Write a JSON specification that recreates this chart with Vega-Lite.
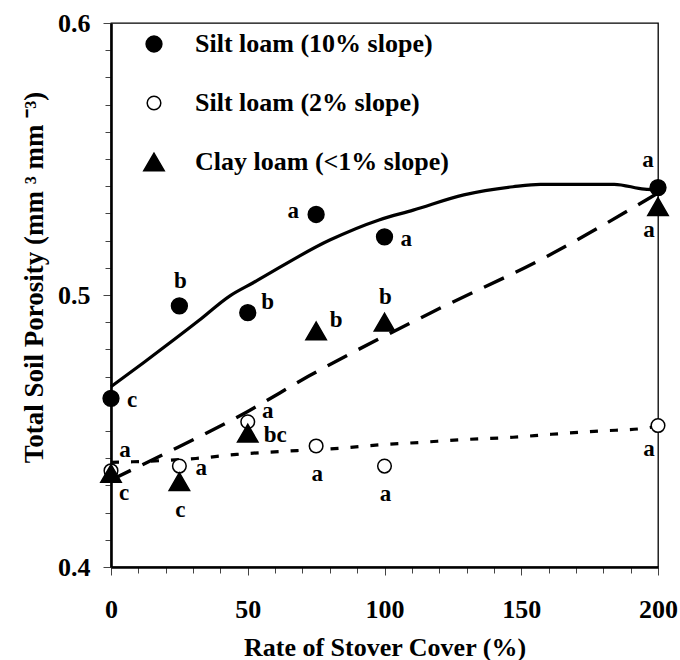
{
  "$schema": "https://vega.github.io/schema/vega-lite/v6.json",
  "width": 547,
  "height": 544,
  "autosize": {"type": "none"},
  "padding": {"left": 111, "top": 23, "right": 22, "bottom": 93},
  "background": "white",
  "config": {
    "view": {"stroke": "black", "strokeWidth": 1.3},
    "font": "Liberation Serif",
    "axis": {
      "grid": false,
      "domainColor": "black",
      "domainWidth": 2.6,
      "tickColor": "#444444",
      "tickWidth": 1,
      "labelFont": "Liberation Serif",
      "labelFontWeight": "bold",
      "labelFontSize": 26,
      "labelColor": "black",
      "labelOverlap": false,
      "labelFlush": false,
      "titleFont": "Liberation Serif",
      "titleFontWeight": "bold",
      "titleFontSize": 26,
      "titleColor": "black"
    }
  },
  "datasets": {
    "points": [
      {"series": "Silt loam (10% slope)", "x": 0, "y": 0.462, "label": "c", "pos": "R"},
      {"series": "Silt loam (10% slope)", "x": 25, "y": 0.496, "label": "b", "pos": "U"},
      {"series": "Silt loam (10% slope)", "x": 50, "y": 0.4935, "label": "b", "pos": "UR"},
      {"series": "Silt loam (10% slope)", "x": 75, "y": 0.5296, "label": "a", "pos": "L"},
      {"series": "Silt loam (10% slope)", "x": 100, "y": 0.5214, "label": "a", "pos": "R"},
      {"series": "Silt loam (10% slope)", "x": 200, "y": 0.5395, "label": "a", "pos": "UL"},
      {"series": "Silt loam (2% slope)", "x": 0, "y": 0.4354, "label": "a", "pos": "UR2"},
      {"series": "Silt loam (2% slope)", "x": 25, "y": 0.4371, "label": "a", "pos": "R"},
      {"series": "Silt loam (2% slope)", "x": 50, "y": 0.4534, "label": "a", "pos": "UR"},
      {"series": "Silt loam (2% slope)", "x": 75, "y": 0.4445, "label": "a", "pos": "D"},
      {"series": "Silt loam (2% slope)", "x": 100, "y": 0.4371, "label": "a", "pos": "D"},
      {"series": "Silt loam (2% slope)", "x": 200, "y": 0.452, "label": "a", "pos": "DL"},
      {"series": "Clay loam (<1% slope)", "x": 0, "y": 0.4344, "label": "c", "pos": "DR"},
      {"series": "Clay loam (<1% slope)", "x": 25, "y": 0.4314, "label": "c", "pos": "D"},
      {"series": "Clay loam (<1% slope)", "x": 50, "y": 0.4492, "label": "bc", "pos": "R"},
      {"series": "Clay loam (<1% slope)", "x": 75, "y": 0.4868, "label": "b", "pos": "UR"},
      {"series": "Clay loam (<1% slope)", "x": 100, "y": 0.49, "label": "b", "pos": "U"},
      {"series": "Clay loam (<1% slope)", "x": 200, "y": 0.5325, "label": "a", "pos": "DL"}
    ],
    "curves": [
      {"series": "Silt loam (10% slope)", "x": 0, "y": 0.4663},
      {"series": "Silt loam (10% slope)", "x": 12, "y": 0.4752},
      {"series": "Silt loam (10% slope)", "x": 32, "y": 0.4905},
      {"series": "Silt loam (10% slope)", "x": 43.5, "y": 0.4997},
      {"series": "Silt loam (10% slope)", "x": 52, "y": 0.5045},
      {"series": "Silt loam (10% slope)", "x": 80, "y": 0.5202},
      {"series": "Silt loam (10% slope)", "x": 98, "y": 0.5276},
      {"series": "Silt loam (10% slope)", "x": 110.5, "y": 0.5312},
      {"series": "Silt loam (10% slope)", "x": 129, "y": 0.5368},
      {"series": "Silt loam (10% slope)", "x": 147, "y": 0.5398},
      {"series": "Silt loam (10% slope)", "x": 157, "y": 0.5407},
      {"series": "Silt loam (10% slope)", "x": 184, "y": 0.5407},
      {"series": "Silt loam (10% slope)", "x": 195, "y": 0.5389},
      {"series": "Silt loam (10% slope)", "x": 200, "y": 0.5387},
      {"series": "Silt loam (2% slope)", "x": 0, "y": 0.4385},
      {"series": "Silt loam (2% slope)", "x": 8, "y": 0.4387},
      {"series": "Silt loam (2% slope)", "x": 31, "y": 0.4399},
      {"series": "Silt loam (2% slope)", "x": 46, "y": 0.4414},
      {"series": "Silt loam (2% slope)", "x": 68, "y": 0.4428},
      {"series": "Silt loam (2% slope)", "x": 84, "y": 0.4437},
      {"series": "Silt loam (2% slope)", "x": 98, "y": 0.4449},
      {"series": "Silt loam (2% slope)", "x": 113, "y": 0.4458},
      {"series": "Silt loam (2% slope)", "x": 128, "y": 0.4468},
      {"series": "Silt loam (2% slope)", "x": 147, "y": 0.4477},
      {"series": "Silt loam (2% slope)", "x": 161, "y": 0.4488},
      {"series": "Silt loam (2% slope)", "x": 179, "y": 0.45},
      {"series": "Silt loam (2% slope)", "x": 195, "y": 0.451},
      {"series": "Silt loam (2% slope)", "x": 200, "y": 0.4518},
      {"series": "Clay loam (<1% slope)", "x": 0, "y": 0.432},
      {"series": "Clay loam (<1% slope)", "x": 20, "y": 0.4418},
      {"series": "Clay loam (<1% slope)", "x": 50, "y": 0.4572},
      {"series": "Clay loam (<1% slope)", "x": 72, "y": 0.47},
      {"series": "Clay loam (<1% slope)", "x": 117, "y": 0.4935},
      {"series": "Clay loam (<1% slope)", "x": 159, "y": 0.514},
      {"series": "Clay loam (<1% slope)", "x": 200, "y": 0.5375}
    ]
  },
  "encoding": {
    "x": {
      "field": "x",
      "type": "quantitative",
      "scale": {"domain": [0, 200], "nice": false, "zero": false},
      "axis": {
        "title": "Rate of Stover Cover (%)",
        "values": [0, 10, 20, 30, 40, 50, 60, 70, 80, 90, 100, 110, 120, 130, 140, 150, 160, 170, 180, 190, 200],
        "labelExpr": "datum.value % 50 === 0 ? datum.label : ''",
        "tickSize": {"condition": {"test": "datum.value % 50 === 0", "value": 8}, "value": 6},
        "labelPadding": 21,
        "titleBaseline": "alphabetic",
        "titleY": 88
      }
    },
    "y": {
      "field": "y",
      "type": "quantitative",
      "scale": {"domain": [0.4, 0.6], "nice": false, "zero": false},
      "axis": {
        "title": "Total Soil Porosity (mm ³ mm ⁻³)",
        "titleFontSize": 27,
        "values": [0.4, 0.41, 0.42, 0.43, 0.44, 0.45, 0.46, 0.47, 0.48, 0.49, 0.5, 0.51, 0.52, 0.53, 0.54, 0.55, 0.56, 0.57, 0.58, 0.59, 0.6],
        "labelExpr": "abs(datum.value * 10 - round(datum.value * 10)) < 0.001 ? format(datum.value, '.1f') : ''",
        "tickSize": {"condition": {"test": "abs(datum.value * 10 - round(datum.value * 10)) < 0.001", "value": 8}, "value": 6},
        "labelPadding": 13,
        "titleAngle": 270,
        "titleBaseline": "middle",
        "titleAlign": "center",
        "titleX": -77,
        "titleY": 254
      }
    }
  },
  "layer": [
    {
      "data": {"name": "curves"},
      "transform": [{"filter": "datum.series === 'Silt loam (10% slope)'"}],
      "mark": {"type": "line", "interpolate": "monotone", "strokeWidth": 3.2, "color": "black"},
      "encoding": {}
    },
    {
      "data": {"name": "curves"},
      "transform": [{"filter": "datum.series === 'Silt loam (2% slope)'"}],
      "mark": {"type": "line", "interpolate": "monotone", "strokeWidth": 3.2, "color": "black", "strokeDash": [8, 12], "strokeCap": "butt"},
      "encoding": {}
    },
    {
      "data": {"name": "curves"},
      "transform": [{"filter": "datum.series === 'Clay loam (<1% slope)'"}],
      "mark": {"type": "line", "interpolate": "monotone", "strokeWidth": 3.4, "color": "black", "strokeDash": [22, 13], "strokeCap": "butt"},
      "encoding": {}
    },
    {
      "data": {"name": "points"},
      "mark": {"type": "point", "filled": true, "stroke": "black", "strokeWidth": 1.5, "opacity": 1},
      "encoding": {
        "shape": {
          "field": "series",
          "type": "nominal",
          "scale": {
            "domain": ["Silt loam (10% slope)", "Silt loam (2% slope)", "Clay loam (<1% slope)"],
            "range": ["circle", "circle", "triangle-up"]
          },
          "legend": {
            "orient": "none",
            "legendX": 30,
            "legendY": 8,
            "title": null,
            "labelFont": "Liberation Serif",
            "labelFontWeight": "bold",
            "labelFontSize": 26,
            "labelColor": "black",
            "rowPadding": 33,
            "labelOffset": 28,
            "symbolStrokeColor": "black",
            "symbolStrokeWidth": 1.5,
            "labelLimit": 500,
            "padding": 0
          }
        },
        "fill": {
          "field": "series",
          "type": "nominal",
          "scale": {
            "domain": ["Silt loam (10% slope)", "Silt loam (2% slope)", "Clay loam (<1% slope)"],
            "range": ["black", "white", "black"]
          }
        },
        "size": {
          "field": "series",
          "type": "nominal",
          "scale": {
            "type": "ordinal",
            "domain": ["Silt loam (10% slope)", "Silt loam (2% slope)", "Clay loam (<1% slope)"],
            "range": [250, 185, 420]
          }
        }
      }
    },
    {
      "data": {"name": "points"},
      "encoding": {"text": {"field": "label", "type": "nominal"}},
      "layer": [
        {"transform": [{"filter": "datum.pos === 'R'"}], "mark": {"type": "text", "font": "Liberation Serif", "fontWeight": "bold", "fontSize": 23, "color": "black", "align": "left", "baseline": "middle", "dx": 16, "dy": 2}},
        {"transform": [{"filter": "datum.pos === 'UR'"}], "mark": {"type": "text", "font": "Liberation Serif", "fontWeight": "bold", "fontSize": 23, "color": "black", "align": "center", "baseline": "middle", "dx": 20, "dy": -11}},
        {"transform": [{"filter": "datum.pos === 'UR2'"}], "mark": {"type": "text", "font": "Liberation Serif", "fontWeight": "bold", "fontSize": 23, "color": "black", "align": "center", "baseline": "middle", "dx": 14, "dy": -21}},
        {"transform": [{"filter": "datum.pos === 'U'"}], "mark": {"type": "text", "font": "Liberation Serif", "fontWeight": "bold", "fontSize": 23, "color": "black", "align": "center", "baseline": "middle", "dx": 1, "dy": -25}},
        {"transform": [{"filter": "datum.pos === 'UL'"}], "mark": {"type": "text", "font": "Liberation Serif", "fontWeight": "bold", "fontSize": 23, "color": "black", "align": "center", "baseline": "middle", "dx": -10, "dy": -28}},
        {"transform": [{"filter": "datum.pos === 'D'"}], "mark": {"type": "text", "font": "Liberation Serif", "fontWeight": "bold", "fontSize": 23, "color": "black", "align": "center", "baseline": "middle", "dx": 1, "dy": 28}},
        {"transform": [{"filter": "datum.pos === 'DL'"}], "mark": {"type": "text", "font": "Liberation Serif", "fontWeight": "bold", "fontSize": 23, "color": "black", "align": "center", "baseline": "middle", "dx": -9, "dy": 23}},
        {"transform": [{"filter": "datum.pos === 'DR'"}], "mark": {"type": "text", "font": "Liberation Serif", "fontWeight": "bold", "fontSize": 23, "color": "black", "align": "center", "baseline": "middle", "dx": 13, "dy": 20}},
        {"transform": [{"filter": "datum.pos === 'L'"}], "mark": {"type": "text", "font": "Liberation Serif", "fontWeight": "bold", "fontSize": 23, "color": "black", "align": "center", "baseline": "middle", "dx": -23, "dy": -3}}
      ]
    }
  ]
}
